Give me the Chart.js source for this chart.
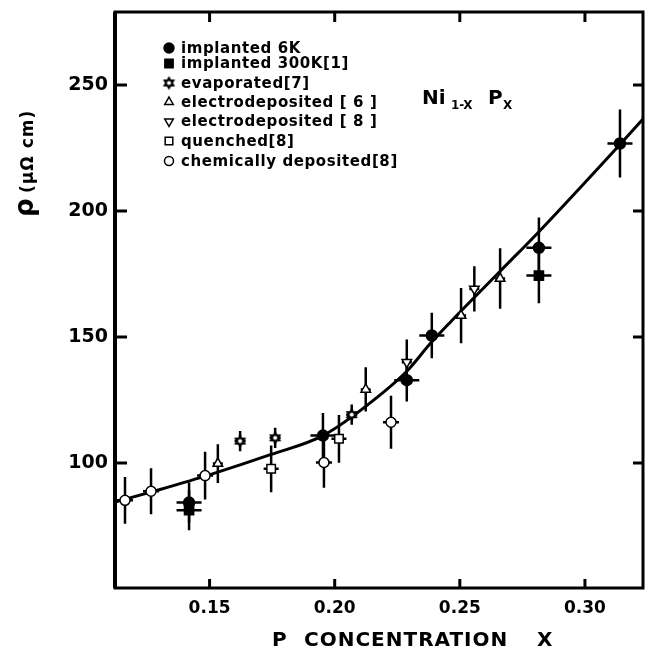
<!DOCTYPE html>
<html>
<head>
<meta charset="utf-8">
<script src="https://cdn.jsdelivr.net/npm/chart.js@4.4.0/dist/chart.umd.min.js"></script>
<style>
  html, body { margin: 0; padding: 0; background: #fff; }
  #wrap { width: 645px; height: 658px; }
</style>
</head>
<body>
<div id="wrap"><canvas id="chart" width="645" height="658"></canvas></div>
<script>
// implanted 6K
const imp6X = [0.1418, 0.1953, 0.2288, 0.2388, 0.2816, 0.3140];
const imp6Y = [84.3, 110.9, 132.9, 150.6, 185.4, 226.8];
const imp6Err = [8, 9, 8.5, 9, 12, 13.5];
// implanted 300K [1]
const imp300X = [0.1418, 0.2816];
const imp300Y = [81.3, 174.4];
const imp300Err = [8, 11];
// evaporated [7]
const evapX = [0.1622, 0.1762, 0.2068];
const evapY = [108.7, 110.0, 119.2];
const evapErr = [4, 4, 4];
// electrodeposited [6]
const ed6X = [0.1533, 0.2124, 0.2505, 0.2661];
const ed6Y = [99.8, 129.2, 158.5, 173.2];
const ed6Err = [7.7, 8.8, 11, 12];
// electrodeposited [8]
const ed8X = [0.2288, 0.2558];
const ed8Y = [140.0, 169.1];
const ed8Err = [9, 9];
// quenched [8]
const quX = [0.1746, 0.2017];
const quY = [97.7, 109.6];
const quErr = [9.3, 9.5];
// chemically deposited [8]
const chX = [0.1162, 0.1266, 0.1482, 0.1957, 0.2225];
const chY = [85.2, 88.8, 95.0, 100.2, 116.2];
const chErr = [9.3, 9.1, 9.5, 10, 10.5];
// drawn curve through the data
const curveX = [0.1122, 0.1302, 0.1502, 0.1746, 0.1953, 0.2124, 0.2288, 0.2381, 0.2461, 0.2661, 0.2821, 0.3140, 0.3232];
const curveY = [84.5, 89.5, 95.4, 103.4, 110.9, 122.5, 136.4, 147.3, 155.8, 176.1, 192.3, 226.4, 236.5];

const xTicks = [0.15, 0.20, 0.25, 0.30];
const yTicks = [100, 150, 200, 250];

// six pointed star for the evaporated samples
function makeStar(size) {
    const c = document.createElement('canvas');
    c.width = size; c.height = size;
    const g = c.getContext('2d');
    const cx = size / 2, cy = size / 2, ro = size / 2 - 0.5, ri = ro * 0.58;
    g.beginPath();
    for (let i = 0; i < 12; i++) {
        const r = i % 2 ? ri : ro;
        const a = -Math.PI / 2 + i * Math.PI / 6;
        g.lineTo(cx + r * Math.cos(a), cy + r * Math.sin(a));
    }
    g.closePath();
    g.fillStyle = '#000';
    g.fill();
    g.beginPath();
    g.arc(cx, cy, ri * 0.5, 0, Math.PI * 2);
    g.fillStyle = '#fff';
    g.fill();
    return c;
}
const starImg = makeStar(15);

function series(label, xs, ys, yErr, xErr, style) {
    return Object.assign({
        label: label,
        data: xs.map((v, i) => ({ x: v, y: ys[i] })),
        yErr: yErr,
        xErr: xs.map(() => xErr),
        borderColor: '#000',
        pointBorderWidth: 1.5,
        showLine: false,
        order: 1
    }, style);
}

const datasets = [
    series('implanted 6K', imp6X, imp6Y, imp6Err, 0.005,
        { pointStyle: 'circle', pointRadius: 5.5, backgroundColor: '#000' }),
    series('implanted 300K[1]', imp300X, imp300Y, imp300Err, 0.005,
        { pointStyle: 'rect', pointRadius: 6.5, backgroundColor: '#000' }),
    series('evaporated[7]', evapX, evapY, evapErr, 0.0022,
        { pointStyle: starImg, pointRadius: 7, backgroundColor: '#000' }),
    series('electrodeposited [ 6 ]', ed6X, ed6Y, ed6Err, 0.002,
        { pointStyle: 'triangle', pointRadius: 5.5, backgroundColor: '#fff' }),
    series('electrodeposited [ 8 ]', ed8X, ed8Y, ed8Err, 0.002,
        { pointStyle: 'triangle', pointRotation: 180, pointRadius: 5.5, backgroundColor: '#fff' }),
    series('quenched[8]', quX, quY, quErr, 0.003,
        { pointStyle: 'rect', pointRadius: 6, backgroundColor: '#fff' }),
    series('chemically deposited[8]', chX, chY, chErr, 0.0032,
        { pointStyle: 'circle', pointRadius: 5, backgroundColor: '#fff' }),
    {
        label: 'curve',
        type: 'line',
        data: curveX.map((v, i) => ({ x: v, y: curveY[i] })),
        borderColor: '#000',
        borderWidth: 3,
        pointRadius: 0,
        showLine: true,
        cubicInterpolationMode: 'monotone',
        order: 10
    }
];

// vertical and horizontal error bars, under the markers
const errorBars = {
    id: 'errorBars',
    beforeDatasetsDraw(chart) {
        const { ctx, scales: { x, y } } = chart;
        ctx.save();
        ctx.strokeStyle = '#000';
        ctx.lineWidth = 2.5;
        chart.data.datasets.forEach(ds => {
            if (!ds.yErr) return;
            ds.data.forEach((p, i) => {
                const px = x.getPixelForValue(p.x);
                const py = y.getPixelForValue(p.y);
                ctx.beginPath();
                ctx.moveTo(px, y.getPixelForValue(p.y + ds.yErr[i]));
                ctx.lineTo(px, y.getPixelForValue(p.y - ds.yErr[i]));
                ctx.moveTo(x.getPixelForValue(p.x - ds.xErr[i]), py);
                ctx.lineTo(x.getPixelForValue(p.x + ds.xErr[i]), py);
                ctx.stroke();
            });
        });
        ctx.restore();
    }
};

// box, inward ticks, legend and free text
const decorations = {
    id: 'decorations',
    afterDraw(chart) {
        const { ctx, chartArea: a, scales: { x, y } } = chart;
        ctx.save();
        ctx.strokeStyle = '#000';
        ctx.lineWidth = 3;
        ctx.strokeRect(a.left, a.top, a.right - a.left, a.bottom - a.top);
        ctx.beginPath();
        xTicks.forEach(v => {
            const px = x.getPixelForValue(v);
            ctx.moveTo(px, a.bottom); ctx.lineTo(px, a.bottom - 9);
            ctx.moveTo(px, a.top); ctx.lineTo(px, a.top + 10);
        });
        yTicks.forEach(v => {
            const py = y.getPixelForValue(v);
            ctx.moveTo(a.left, py); ctx.lineTo(a.left + 12, py);
            ctx.moveTo(a.right, py); ctx.lineTo(a.right - 10, py);
        });
        ctx.stroke();
        // slightly heavier left axis
        ctx.lineWidth = 4;
        ctx.beginPath();
        ctx.moveTo(a.left, a.top); ctx.lineTo(a.left, a.bottom);
        ctx.stroke();

        // legend
        const rows = [48, 63.5, 83, 102, 121.5, 141, 161];
        ctx.textBaseline = 'middle';
        ctx.textAlign = 'left';
        ctx.lineWidth = 1.5;
        datasets.slice(0, 7).forEach((ds, i) => {
            ctx.fillStyle = ds.backgroundColor;
            ctx.strokeStyle = '#000';
            Chart.helpers.drawPoint(ctx, {
                pointStyle: ds.pointStyle,
                radius: ds.pointRadius * 0.9,
                rotation: ds.pointRotation || 0,
                borderWidth: 1.5
            }, 169, rows[i]);
            ctx.fillStyle = '#000';
            ctx.font = 'bold 15px "DejaVu Sans"';
            ctx.letterSpacing = '0.6px';
            ctx.fillText(ds.label, 181, rows[i] + 1);
        });

        // compound label
        ctx.letterSpacing = '0px';
        ctx.textBaseline = 'alphabetic';
        ctx.font = 'bold 20px "DejaVu Sans"';
        ctx.fillText('Ni', 422, 104);
        ctx.fillText('P', 488, 104);
        ctx.font = 'bold 12px "DejaVu Sans"';
        ctx.fillText('1-X', 451, 109);
        ctx.fillText('X', 503, 109);

        // axis titles
        ctx.font = 'bold 20px "DejaVu Sans"';
        ctx.letterSpacing = '1px';
        ctx.fillText('P', 272, 646);
        ctx.fillText('CONCENTRATION', 304, 646);
        ctx.fillText('X', 537, 646);

        ctx.translate(33, 217);
        ctx.rotate(-Math.PI / 2);
        ctx.letterSpacing = '0px';
        ctx.font = 'bold 26px "DejaVu Sans"';
        ctx.fillText('\u03c1', 0, 0);
        ctx.font = 'bold 17px "DejaVu Sans"';
        ctx.letterSpacing = '1px';
        ctx.fillText('(\u03bc\u03a9 cm)', 24, 0);
        ctx.restore();
    }
};

new Chart(document.getElementById('chart'), {
    type: 'scatter',
    data: { datasets: datasets },
    options: {
        responsive: false,
        animation: false,
        devicePixelRatio: 1,
        layout: { autoPadding: false, padding: { left: 0, top: 12, right: 2, bottom: 0 } },
        plugins: { legend: { display: false }, tooltip: { enabled: false } },
        scales: {
            x: {
                type: 'linear',
                min: 0.1122,
                max: 0.3232,
                grid: { display: false, drawTicks: false },
                border: { display: false },
                afterBuildTicks: s => { s.ticks = xTicks.map(v => ({ value: v })); },
                afterFit: s => {
                    s.height = 70;
                    s.paddingLeft = 0; s.paddingRight = 0;
                    s.paddingTop = 0; s.paddingBottom = 0;
                },
                ticks: {
                    color: '#000',
                    padding: 10,
                    font: { family: 'DejaVu Sans', size: 17, weight: 'bold' },
                    callback: v => v.toFixed(2)
                }
            },
            y: {
                type: 'linear',
                min: 50.4,
                max: 279,
                grid: { display: false, drawTicks: false },
                border: { display: false },
                afterBuildTicks: s => { s.ticks = yTicks.map(v => ({ value: v })); },
                afterFit: s => {
                    s.width = 115;
                    s.paddingLeft = 0; s.paddingRight = 0;
                    s.paddingTop = 0; s.paddingBottom = 0;
                },
                ticks: {
                    color: '#000',
                    padding: 7,
                    font: { family: 'DejaVu Sans', size: 19, weight: 'bold' },
                    callback: v => String(v)
                }
            }
        }
    },
    plugins: [errorBars, decorations]
});
</script>
</body>
</html>
